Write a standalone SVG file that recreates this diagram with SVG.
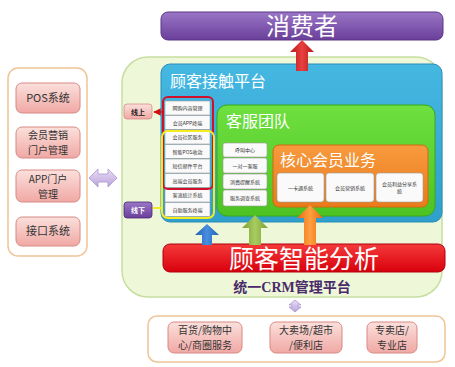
<svg xmlns="http://www.w3.org/2000/svg" width="455" height="367" viewBox="0 0 455 367">
<defs>
<linearGradient id="gPurple" x1="0" y1="0" x2="0" y2="1"><stop offset="0" stop-color="#9a76c6"/><stop offset="1" stop-color="#6a3f9a"/></linearGradient>
<linearGradient id="gPink" x1="0" y1="0" x2="0" y2="1"><stop offset="0" stop-color="#fbe0dc"/><stop offset="1" stop-color="#f0a8a4"/></linearGradient>
<linearGradient id="gRed" x1="0" y1="0" x2="0" y2="1"><stop offset="0" stop-color="#f53a3a"/><stop offset="1" stop-color="#d8000c"/></linearGradient>
<linearGradient id="gBlue" x1="0" y1="0" x2="0" y2="1"><stop offset="0" stop-color="#45b8e2"/><stop offset="1" stop-color="#2f9fcc"/></linearGradient>
<linearGradient id="gGreen" x1="0" y1="0" x2="0" y2="1"><stop offset="0" stop-color="#6ee040"/><stop offset="1" stop-color="#4cc322"/></linearGradient>
<linearGradient id="gOrange" x1="0" y1="0" x2="0" y2="1"><stop offset="0" stop-color="#f79a3e"/><stop offset="1" stop-color="#ea7a1c"/></linearGradient>
<linearGradient id="gLav" x1="0" y1="0" x2="0" y2="1"><stop offset="0" stop-color="#ecdcf6"/><stop offset="1" stop-color="#b8a4dc"/></linearGradient>
<linearGradient id="gArrRed" x1="0" y1="0" x2="1" y2="0"><stop offset="0" stop-color="#b81818"/><stop offset="0.5" stop-color="#e84040"/><stop offset="1" stop-color="#b81818"/></linearGradient>
<linearGradient id="gArrBlue" x1="0" y1="0" x2="1" y2="0"><stop offset="0" stop-color="#2060b0"/><stop offset="0.5" stop-color="#4a8ee0"/><stop offset="1" stop-color="#2060b0"/></linearGradient>
<linearGradient id="gArrGreen" x1="0" y1="0" x2="1" y2="0"><stop offset="0" stop-color="#7aa030"/><stop offset="0.5" stop-color="#a8cc60"/><stop offset="1" stop-color="#7aa030"/></linearGradient>
<linearGradient id="gArrOrange" x1="0" y1="0" x2="1" y2="0"><stop offset="0" stop-color="#e86a10"/><stop offset="0.5" stop-color="#ffa040"/><stop offset="1" stop-color="#e86a10"/></linearGradient>
<marker id="mRed" viewBox="0 0 10 10" refX="9" refY="5" markerWidth="5" markerHeight="5" orient="auto"><path d="M0,0 L10,5 L0,10 z" fill="#d01010"/></marker>
</defs>
<style>
.cjk{font-family:"Noto Sans CJK SC","Noto Sans",sans-serif}
.pinkbox{fill:url(#gPink);stroke:#d88a86;stroke-width:1}
.pt{font-size:11px;fill:#333;text-anchor:middle}
.pt2{font-size:10px;fill:#333;text-anchor:middle}
.wb{fill:#fafafa;stroke:#9a9a9a;stroke-width:0.6}
.st{font-size:5px;fill:#333;text-anchor:middle}
.title{fill:#fff;font-size:16px}
</style>

<!-- consumer -->
<g id="consumer">
<rect x="161" y="12" width="282" height="28" rx="7" fill="url(#gPurple)" stroke="#5a3486" stroke-width="1"/>
<text x="302" y="35" class="cjk" font-size="24" fill="#fff" text-anchor="middle">消费者</text>
</g>

<!-- platform background -->
<g id="crm-platform">
<rect x="122" y="57" width="320" height="240" rx="26" fill="#eef8d8" stroke="#c6dea0" stroke-width="1.5"/>
<text x="292" y="292" font-family="'Liberation Serif','Noto Sans CJK SC',serif" font-weight="bold" font-size="14" fill="#4a2a6a" text-anchor="middle">统一CRM管理平台</text>
</g>

<!-- left panel -->
<g id="left-panel">
<rect x="8" y="68" width="79" height="188" rx="10" fill="#fff" stroke="#f0c496" stroke-width="1.5"/>
<rect x="16" y="83" width="64" height="30" rx="6" class="pinkbox"/>
<text x="48" y="102" class="cjk pt">POS系统</text>
<rect x="16" y="127" width="64" height="31" rx="6" class="pinkbox"/>
<text x="48" y="139" class="cjk pt2">会员营销</text>
<text x="48" y="154" class="cjk pt2">门户管理</text>
<rect x="16" y="170" width="64" height="32" rx="6" class="pinkbox"/>
<text x="48" y="183" class="cjk pt2">APP门户</text>
<text x="48" y="198" class="cjk pt2">管理</text>
<rect x="16" y="217" width="64" height="29" rx="6" class="pinkbox"/>
<text x="48" y="235" class="cjk pt">接口系统</text>
</g>

<!-- bottom panel -->
<g id="bottom-panel">
<rect x="148" y="316" width="297" height="46" rx="9" fill="#fff" stroke="#f0c496" stroke-width="1.5"/>
<rect x="168" y="322" width="74" height="31" rx="6" class="pinkbox"/>
<text x="205" y="334" class="cjk pt2">百货/购物中</text>
<text x="205" y="349" class="cjk pt2">心/商圈服务</text>
<rect x="270" y="322" width="72" height="31" rx="6" class="pinkbox"/>
<text x="306" y="334" class="cjk pt2">大卖场/超市</text>
<text x="306" y="349" class="cjk pt2">/便利店</text>
<rect x="367" y="322" width="50" height="31" rx="6" class="pinkbox"/>
<text x="392" y="334" class="cjk pt2">专卖店/</text>
<text x="392" y="349" class="cjk pt2">专业店</text>
</g>

<!-- contact platform -->
<g id="contact-platform">
<rect x="161" y="64" width="281" height="158" rx="9" fill="url(#gBlue)" stroke="#2a8cb8" stroke-width="1"/>
<text x="170" y="87" class="cjk title">顾客接触平台</text>
</g>

<g id="contact-list">
<rect x="165" y="101" width="45" height="14" class="wb"/><text x="187.5" y="110" class="cjk st">网购内容管理</text>
<rect x="165" y="115.5" width="45" height="14" class="wb"/><text x="187.5" y="124.5" class="cjk st">会员APP终端</text>
<rect x="165" y="130" width="45" height="14" class="wb"/><text x="187.5" y="139" class="cjk st">会员社区服务</text>
<rect x="165" y="144.5" width="45" height="14" class="wb"/><text x="187.5" y="153.5" class="cjk st">智能POS收款</text>
<rect x="165" y="159" width="45" height="14" class="wb"/><text x="187.5" y="168" class="cjk st">短信邮件平台</text>
<rect x="165" y="173.5" width="45" height="14" class="wb"/><text x="187.5" y="182.5" class="cjk st">高端会员服务</text>
<rect x="165" y="188" width="45" height="14" class="wb"/><text x="187.5" y="197" class="cjk st">客流统计系统</text>
<rect x="165" y="202.5" width="45" height="14" class="wb"/><text x="187.5" y="211.5" class="cjk st">自助服务终端</text>
<rect x="163" y="97" width="50" height="92" rx="5" fill="none" stroke="#d0102a" stroke-width="2"/>
<rect x="162" y="131" width="52" height="87" rx="6" fill="none" stroke="#f4ec20" stroke-width="2"/>
</g>

<g id="online">
<rect x="124" y="104" width="28" height="15" rx="3" fill="url(#gPink)" stroke="#d88a86" stroke-width="0.8"/>
<text x="138" y="115" class="cjk" font-size="7" font-weight="bold" fill="#222" text-anchor="middle">线上</text>
</g>
<g id="offline">
<rect x="124" y="202" width="28" height="16" rx="3" fill="url(#gPurple)" stroke="#4a2a76" stroke-width="0.8"/>
<text x="138" y="213" class="cjk" font-size="7" font-weight="bold" fill="#fff" text-anchor="middle">线下</text>
</g>

<!-- service team -->
<g id="service-team">
<rect x="217" y="105" width="218" height="111" rx="10" fill="url(#gGreen)" stroke="#3aa816" stroke-width="1"/>
<text x="226" y="127" class="cjk title">客服团队</text>
<rect x="223" y="143" width="44" height="14" rx="2" class="wb"/><text x="245" y="152" class="cjk st">呼叫中心</text>
<rect x="223" y="158" width="44" height="15" rx="2" class="wb"/><text x="245" y="167.5" class="cjk st">一对一客服</text>
<rect x="223" y="174" width="44" height="15" rx="2" class="wb"/><text x="245" y="183.5" class="cjk st">消费提醒系统</text>
<rect x="223" y="190" width="44" height="16" rx="2" class="wb"/><text x="245" y="200" class="cjk st">服务调查系统</text>
</g>

<!-- core business -->
<g id="core-business">
<rect x="273" y="145" width="155" height="62" rx="6" fill="url(#gOrange)" stroke="#d06a10" stroke-width="1"/>
<text x="280" y="166" class="cjk title">核心会员业务</text>
<rect x="277" y="173" width="47" height="29" rx="3" class="wb"/><text x="300.5" y="190" class="cjk st">一卡通系统</text>
<rect x="326" y="173" width="48" height="29" rx="3" class="wb"/><text x="350" y="190" class="cjk st">会员营销系统</text>
<rect x="376" y="173" width="47" height="29" rx="3" class="wb"/><text x="399.5" y="186" class="cjk st">会员利益分享系</text><text x="399.5" y="193" class="cjk st">统</text>
</g>

<!-- analysis -->
<g id="analysis">
<rect x="163" y="244" width="282" height="28" rx="7" fill="url(#gRed)" stroke="#b00010" stroke-width="1"/>
<text x="304" y="268" class="cjk" font-size="25" fill="#fff" text-anchor="middle">顾客智能分析</text>
</g>

<!-- connectors -->
<g id="connectors">
<path d="M296,71 L296,52 L290,52 L302,40 L314,52 L308,52 L308,71 z" fill="url(#gArrRed)"/>
<path d="M202,245 L202,235 L195,235 L207,224 L219,235 L212,235 L212,245 z" fill="url(#gArrBlue)"/>
<path d="M249,245 L249,228 L242,228 L255,215 L268,228 L261,228 L261,245 z" fill="url(#gArrGreen)"/>
<path d="M304,245 L304,218 L297,218 L310,205 L323,218 L316,218 L316,245 z" fill="url(#gArrOrange)"/>
<path d="M89,178 L98,169 L98,174 L108,174 L108,169 L117,178 L108,187 L108,182 L98,182 L98,187 z" fill="url(#gLav)" stroke="#a898cc" stroke-width="0.8"/>
<path d="M295,300 L301,305 L298,305 L298,307 L301,307 L295,312 L289,307 L292,307 L292,305 L289,305 z" fill="url(#gLav)" stroke="#a898cc" stroke-width="0.8"/>
<line x1="163" y1="112" x2="154" y2="112" stroke="#d01010" stroke-width="1.5" marker-end="url(#mRed)"/>
<line x1="162" y1="208" x2="153" y2="208" stroke="#f4ec20" stroke-width="2"/>
</g>
</svg>
